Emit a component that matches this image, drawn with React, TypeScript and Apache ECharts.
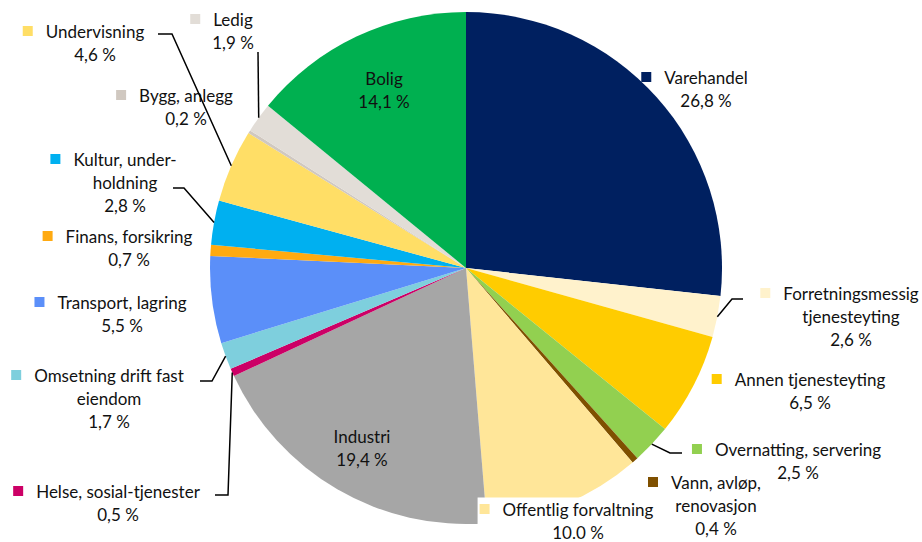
import React, { useEffect, useRef } from "react";
import * as echarts from "echarts";

// ---- Data ----
const names = [
  "Varehandel",
  "Forretningsmessig tjenesteyting",
  "Annen tjenesteyting",
  "Overnatting, servering",
  "Vann, avløp, renovasjon",
  "Offentlig forvaltning",
  "Industri",
  "Helse, sosial-tjenester",
  "Omsetning drift fast eiendom",
  "Transport, lagring",
  "Finans, forsikring",
  "Kultur, underholdning",
  "Undervisning",
  "Bygg, anlegg",
  "Ledig",
  "Bolig",
];
const values = [26.8, 2.6, 6.5, 2.5, 0.4, 10.0, 19.4, 0.5, 1.7, 5.5, 0.7, 2.8, 4.6, 0.2, 1.9, 14.1];
const percentText = [
  "26,8 %", "2,6 %", "6,5 %", "2,5 %", "0,4 %", "10.0 %", "19,4 %", "0,5 %",
  "1,7 %", "5,5 %", "0,7 %", "2,8 %", "4,6 %", "0,2 %", "1,9 %", "14,1 %",
];
// Label text as broken into lines in the chart
const labelText = [
  "Varehandel",
  "Forretningsmessig\ntjenesteyting",
  "Annen tjenesteyting",
  "Overnatting, servering",
  "Vann, avløp,\nrenovasjon",
  "Offentlig forvaltning",
  "Industri",
  "Helse, sosial-tjenester",
  "Omsetning drift fast\neiendom",
  "Transport, lagring",
  "Finans, forsikring",
  "Kultur, under-\nholdning",
  "Undervisning",
  "Bygg, anlegg",
  "Ledig",
  "Bolig",
];
const colors = [
  "#002060", "#FFF2CC", "#FFCC00", "#92D050", "#7F5000", "#FFE699", "#A6A6A6", "#CC0066",
  "#7ECFDD", "#5B8FF9", "#FFAA11", "#00B0F0", "#FFDE66", "#D0C8C0", "#E2DDD7", "#00B050",
];
const insideLabel = [false, false, false, false, false, false, true, false, false, false, false, false, false, false, false, true];

// ---- Layout (styling, not data) ----
const CX = 466;
const CY = 268;
const R = 256;
const LINE_H = 23;
const SQ_SHIFT = 11.5; // half of square + gap width
// label name center x, first line center y
const labelPos: [number, number][] = [
  [706, 77], [851, 293], [810, 379], [798, 449], [716, 482], [578, 509], [362, 436], [118, 491],
  [109, 375], [122, 302], [129, 236], [125, 159], [95, 31], [186, 95], [233, 19], [384, 78],
];
// leader lines: list of points after the arc point (null = no line)
const leaderPts: ([number, number][] | null)[] = [
  null,
  [[732, 299], [743, 299]],
  null,
  [[670, 453], [682, 453]],
  null,
  null,
  null,
  [[228, 495], [215, 495]],
  [[212, 381], [200, 381]],
  null,
  null,
  [[184, 188], [173, 188]],
  [[172, 34], [158, 34]],
  null,
  [[258, 52]],
  null,
];

export default function App() {
  const ref = useRef<HTMLDivElement>(null);
  useEffect(() => {
    if (!ref.current) return;
    const chart = echarts.init(ref.current, null, { renderer: "svg" });
    const total = values.reduce((a, b) => a + b, 0);

    const data = values.map((v, i) => {
      const lines = labelText[i].split("\n");
      let fmt: string;
      if (insideLabel[i]) {
        fmt = [...lines, percentText[i]].join("\n");
      } else if (i === 5) {
        // boxed label: shift other lines instead of padding the first on the right
        fmt = ["{sq|}{gap|}" + lines[0], ...lines.slice(1).map((l) => "{sp|}" + l), "{sp|}" + percentText[i]].join("\n");
      } else {
        fmt = ["{sq|}{gap|}" + lines[0] + "{sp|}", ...lines.slice(1), percentText[i]].join("\n");
      }
      return {
        name: names[i],
        value: v,
        itemStyle: { color: colors[i] },
        label: {
          formatter: fmt,
          backgroundColor: i === 5 ? "#ffffff" : "transparent",
          padding: i === 5 ? [0, 2, 0, 2] : 0,
          rich: {
            sq: { width: 10, height: 10, backgroundColor: colors[i] },
            gap: { width: 13 },
            sp: { width: 23 },
          },
        },
      };
    });

    // leader lines from slice mid-angle at the outer radius
    const graphics: any[] = [];
    let cum = 0;
    values.forEach((v, i) => {
      const mid = cum + v / 2;
      cum += v;
      const pts = leaderPts[i];
      if (!pts) return;
      const a = (mid / total) * 2 * Math.PI; // clockwise from top
      const ax = CX + R * Math.sin(a);
      const ay = CY - R * Math.cos(a);
      graphics.push({
        type: "polyline",
        shape: { points: [[ax, ay], ...pts] },
        style: { stroke: "#000", lineWidth: 1.5, fill: null },
        z: 10,
      });
    });

    chart.setOption({
      animation: false,
      backgroundColor: "#ffffff",
      graphic: graphics,
      series: [
        {
          type: "pie",
          center: [CX, CY],
          radius: R,
          startAngle: 90,
          clockwise: true,
          avoidLabelOverlap: false,
          data,
          label: {
            show: true,
            position: "inside",
            overflow: "none",
            fontFamily: "Lato, 'Noto Sans', sans-serif",
            fontSize: 17,
            lineHeight: LINE_H,
            color: "#111111",
            align: "center",
          },
          labelLine: { show: false },
          labelLayout: (params: any) => {
            const i = params.dataIndex;
            const [x, y] = labelPos[i];
            return {
              x: i === 5 ? x - SQ_SHIFT : x,
              y: y - LINE_H / 2,
              align: "center",
              verticalAlign: "top",
            };
          },
          emphasis: { disabled: true },
        },
      ],
    });
    return () => chart.dispose();
  }, []);
  return (
    <div
      ref={ref}
      style={{ position: "fixed", left: 0, top: 0, width: 922, height: 542, background: "#fff" }}
    />
  );
}
